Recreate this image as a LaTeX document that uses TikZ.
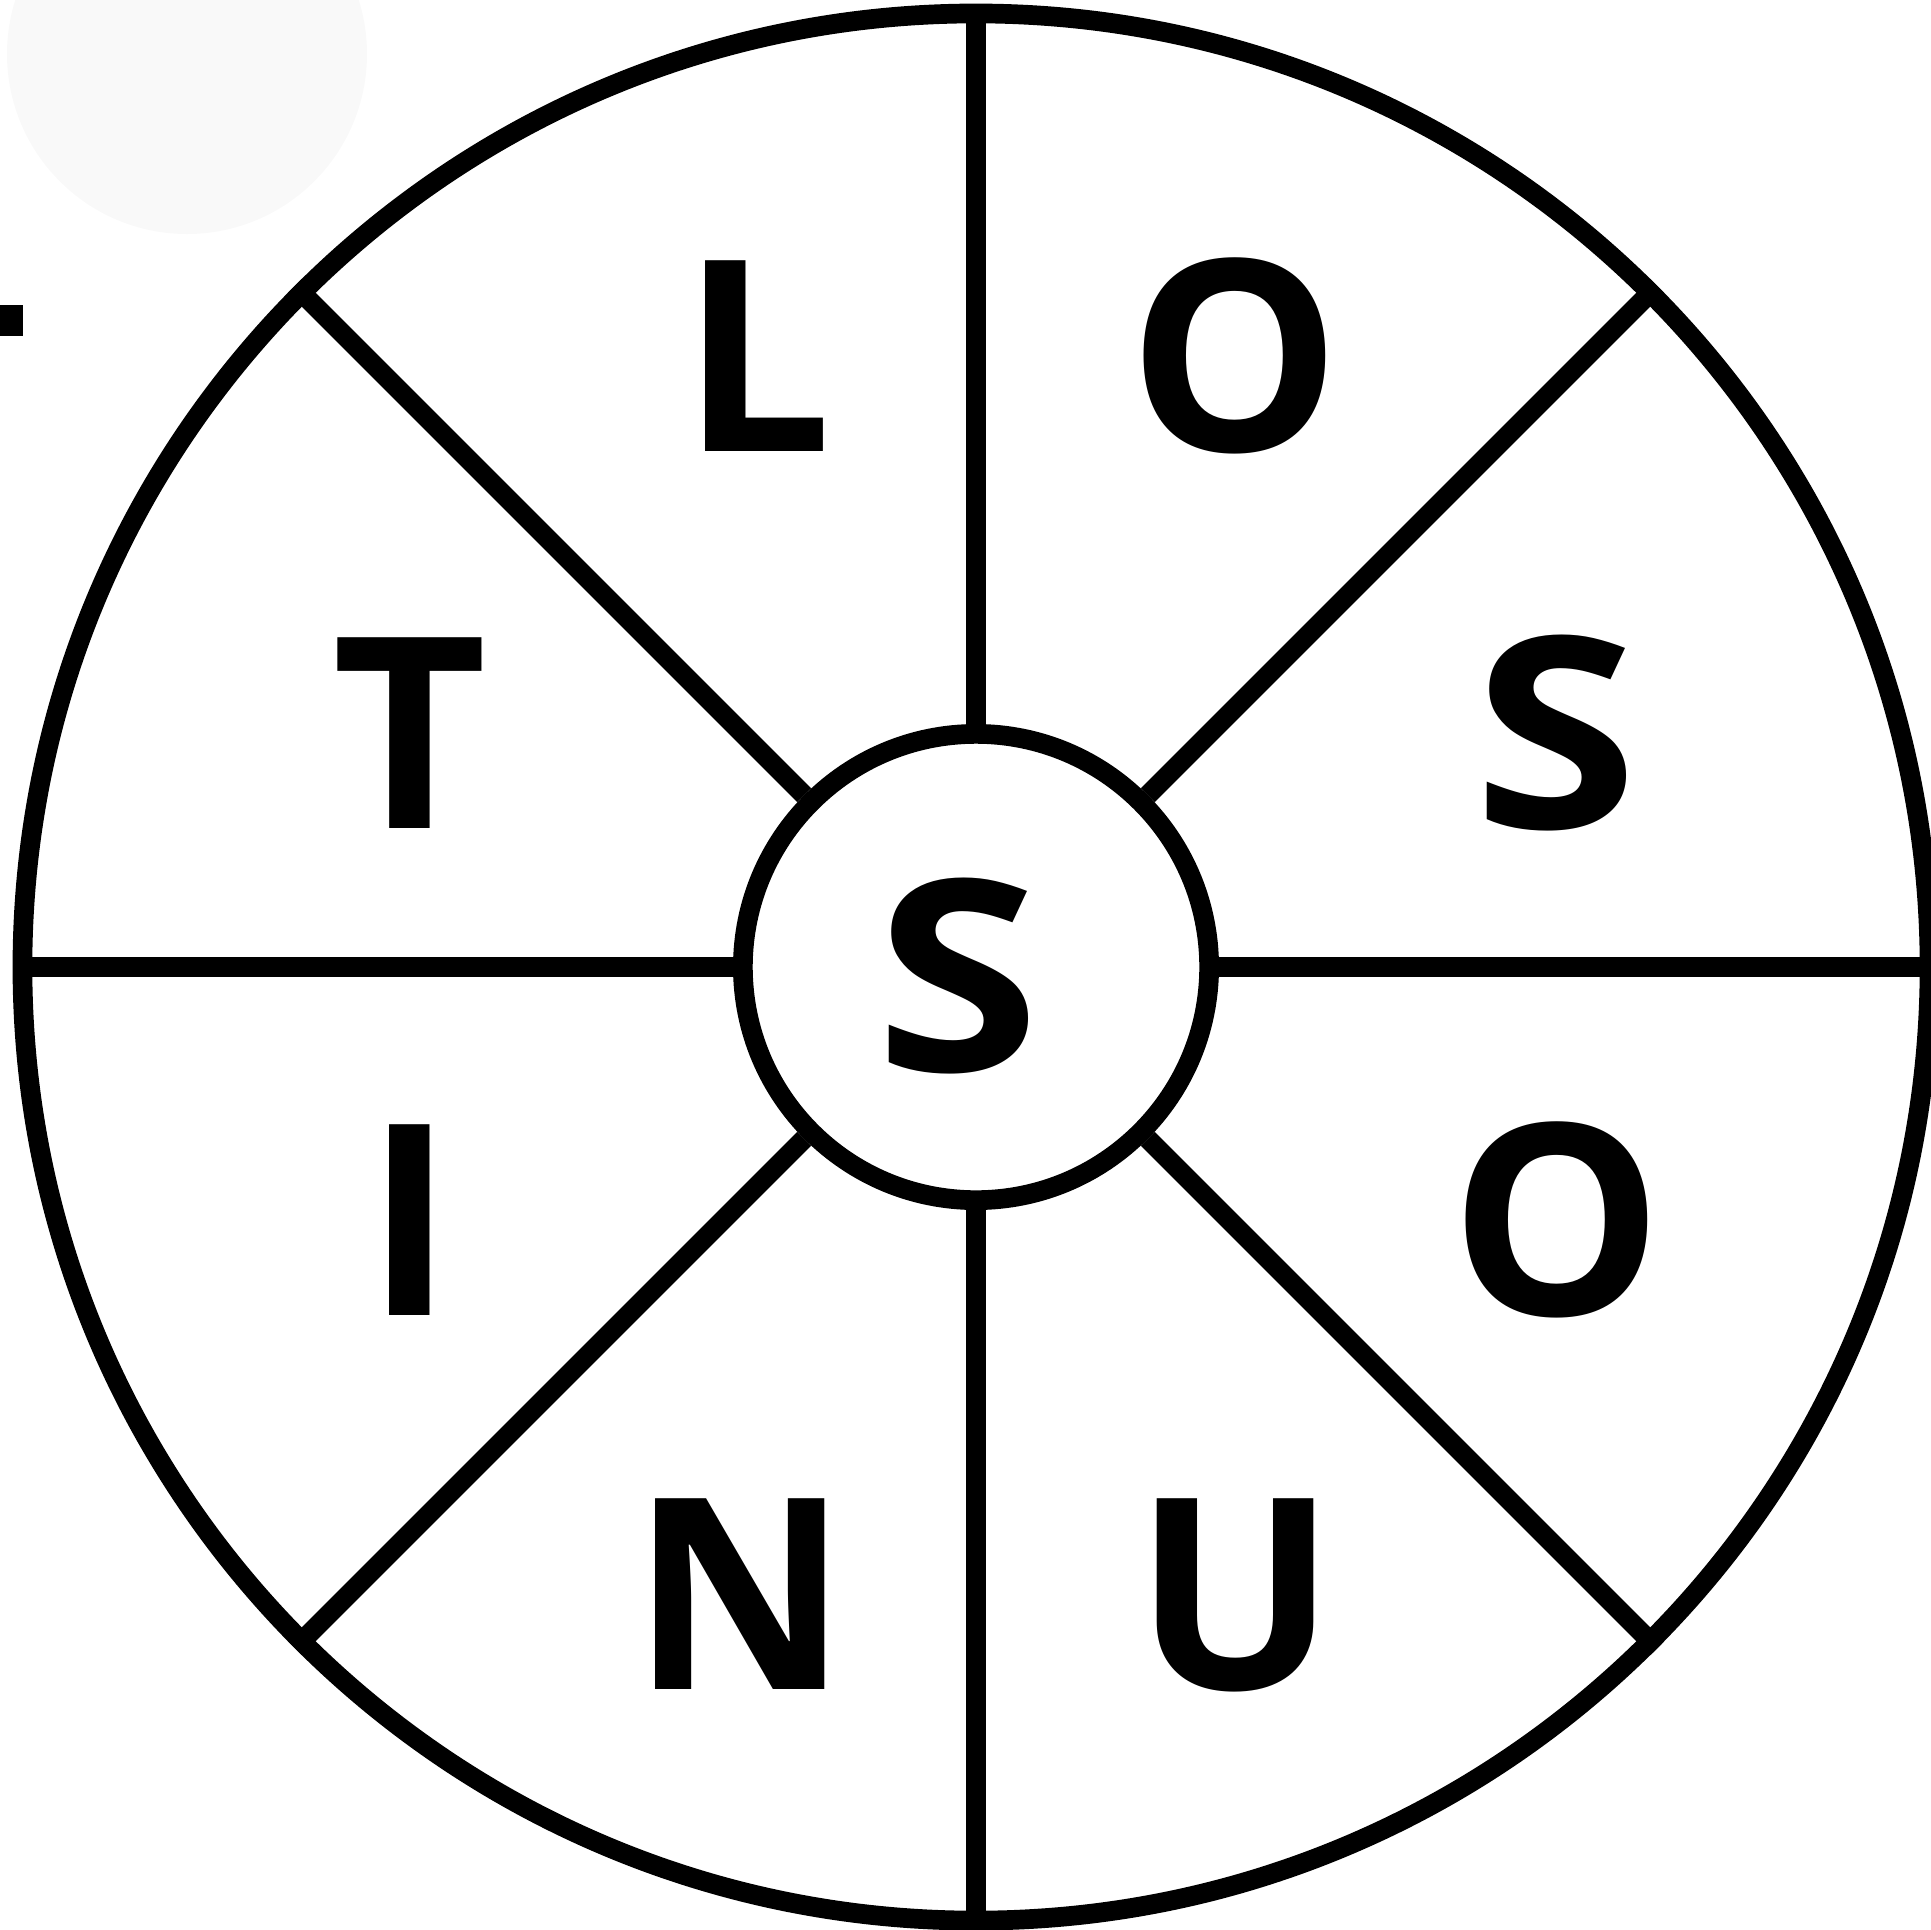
\documentclass[tikz,border=0pt]{standalone}
\usepackage{fontspec}
\setmainfont{Open Sans}
\definecolor{faint}{HTML}{F9F9F9}
\begin{document}
\begin{tikzpicture}[x=0.01cm,y=-0.01cm,
  ring/.style={draw=black,line width=5.6pt,circle,inner sep=0pt},
  spoke/.style={draw=black,line width=5.6pt},
  letter/.style={inner sep=0pt,font=\fontsize{76}{76}\selectfont\bfseries}]
\useasboundingbox (0,0) rectangle (1931,1929);
\clip (0,0) rectangle (1931,1929);
\fill[faint] (187,54) circle [radius=180];
\fill[black] (0,305) rectangle (23,336);
\node[ring,minimum size=19.06cm] (outer) at (976,967) {};
\node[ring,minimum size=4.66cm] (inner) at (976,967) {};
\foreach \a in {0,45,...,315}{
  \draw[spoke] (inner.\a) -- (outer.\a);
}
\node[letter] (l1) at (757,356) {L};
\node[letter] (l2) at (1234.5,356) {O};
\node[letter,xscale=1.12] (l3) at (1556,733) {S};
\node[letter] (l4) at (1557,1220) {O};
\node[letter] (l5) at (1235,1595) {U};
\node[letter] (l6) at (740.5,1594) {N};
\node[letter] (l7) at (410,1220) {I};
\node[letter] (l8) at (410,733.5) {T};
\node[letter,xscale=1.12] (c) at (958,976) {S};
\end{tikzpicture}
\end{document}
